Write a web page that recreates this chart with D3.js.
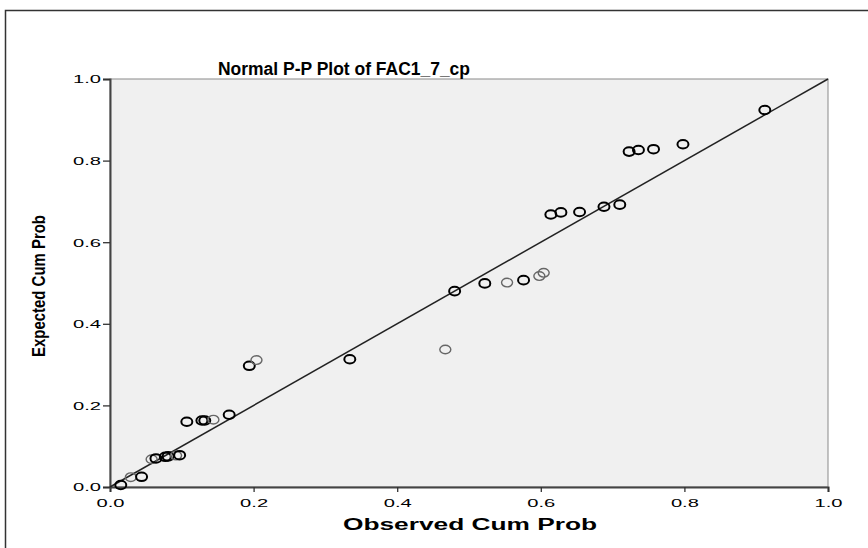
<!DOCTYPE html>
<html>
<head>
<meta charset="utf-8">
<script src="https://cdn.jsdelivr.net/npm/d3@7/dist/d3.min.js"></script>
<style>
  html, body { margin: 0; padding: 0; background: #fff; }
  svg { display: block; }
  text { font-family: "Liberation Sans", Arial, sans-serif; fill: #000; }
</style>
</head>
<body>
<svg id="chart" width="868" height="548"></svg>
<script>
// Observed vs expected cumulative probabilities for FAC1_7_cp
const observed = [0.015, 0.029, 0.044, 0.058, 0.064, 0.077, 0.081, 0.092, 0.097,
  0.107, 0.128, 0.132, 0.144, 0.166, 0.194, 0.204, 0.334, 0.467, 0.480, 0.522,
  0.553, 0.576, 0.598, 0.604, 0.614, 0.628, 0.654, 0.688, 0.710, 0.723, 0.736,
  0.757, 0.798, 0.912];
const expected = [0.005, 0.024, 0.025, 0.068, 0.070, 0.074, 0.075, 0.077, 0.078,
  0.160, 0.163, 0.163, 0.165, 0.177, 0.297, 0.311, 0.313, 0.337, 0.480, 0.499,
  0.501, 0.507, 0.517, 0.525, 0.668, 0.673, 0.674, 0.687, 0.692, 0.822, 0.826,
  0.828, 0.840, 0.924];
// number of cases sharing each plotted position (tied values overprint)
const cases = [2, 1, 2, 1, 2, 2, 2, 1, 2, 2, 2, 2, 1, 2, 2, 1, 2, 1, 2, 2,
  1, 2, 1, 1, 2, 2, 2, 2, 2, 2, 2, 2, 2, 2];
const tickValues = [0.0, 0.2, 0.4, 0.6, 0.8, 1.0];
const tickLabels = ["0.0", "0.2", "0.4", "0.6", "0.8", "1.0"];

const svg = d3.select("#chart");
const plot = { left: 110, right: 828, top: 79, bottom: 487 };

const x = d3.scaleLinear().domain([0, 1]).range([plot.left, plot.right]);
const y = d3.scaleLinear().domain([0, 1]).range([plot.bottom, plot.top]);

// outer chart frame
svg.append("path")
  .attr("d", `M5.5,548 V10.5 H868`)
  .attr("fill", "none").attr("stroke", "#333").attr("stroke-width", 1.5);

// plot background and frame
svg.append("rect")
  .attr("x", plot.left).attr("y", plot.top)
  .attr("width", plot.right - plot.left).attr("height", plot.bottom - plot.top)
  .attr("fill", "#f0f0f0").attr("stroke", "#8a8a8a").attr("stroke-width", 1);

// axes
const xAxis = d3.axisBottom(x).tickValues(tickValues).tickSize(5).tickFormat("");
const yAxis = d3.axisLeft(y).tickValues(tickValues).tickSize(7).tickFormat("");

const gx = svg.append("g").attr("transform", `translate(0,${plot.bottom})`).call(xAxis);
const gy = svg.append("g").attr("transform", `translate(${plot.left},0)`).call(yAxis);
[gx, gy].forEach(g => {
  g.select(".domain").attr("stroke", "#444").attr("stroke-width", 2);
  g.selectAll(".tick line").attr("stroke", "#333").attr("stroke-width", 1.3);
});

// stretched tick labels
gx.selectAll(".tick").append("text")
  .attr("y", 20).attr("text-anchor", "middle")
  .attr("font-size", 11).attr("textLength", 28).attr("lengthAdjust", "spacingAndGlyphs")
  .text((d, i) => tickLabels[i]);
gy.selectAll(".tick").append("text")
  .attr("x", -9).attr("dy", "0.35em").attr("text-anchor", "end")
  .attr("font-size", 11).attr("textLength", 28).attr("lengthAdjust", "spacingAndGlyphs")
  .text((d, i) => tickLabels[i]);

// reference diagonal
svg.append("line")
  .attr("x1", x(0)).attr("y1", y(0)).attr("x2", x(1)).attr("y2", y(1))
  .attr("stroke", "#222").attr("stroke-width", 1.5);

// points
const pts = observed.map((o, i) => ({ o, e: expected[i], n: cases[i] }));
svg.append("g").selectAll("ellipse").data(pts).join("ellipse")
  .attr("cx", d => x(d.o)).attr("cy", d => y(d.e))
  .attr("rx", 5.5).attr("ry", 4.3)
  .attr("fill", "none")
  .attr("stroke", d => d.n > 1 ? "#000" : "#666")
  .attr("stroke-width", d => d.n > 1 ? 2 : 1.4);

// titles
svg.append("text")
  .attr("x", 344).attr("y", 75).attr("text-anchor", "middle")
  .attr("font-size", 18).attr("font-weight", "bold")
  .attr("textLength", 252).attr("lengthAdjust", "spacingAndGlyphs")
  .text("Normal P-P Plot of FAC1_7_cp");

svg.append("text")
  .attr("x", 470).attr("y", 530).attr("text-anchor", "middle")
  .attr("font-size", 16).attr("font-weight", "bold")
  .attr("textLength", 254).attr("lengthAdjust", "spacingAndGlyphs")
  .text("Observed Cum Prob");

svg.append("text")
  .attr("transform", "translate(45,286) rotate(-90)").attr("text-anchor", "middle")
  .attr("font-size", 18).attr("font-weight", "bold")
  .attr("textLength", 142).attr("lengthAdjust", "spacingAndGlyphs")
  .text("Expected Cum Prob");
</script>
</body>
</html>
